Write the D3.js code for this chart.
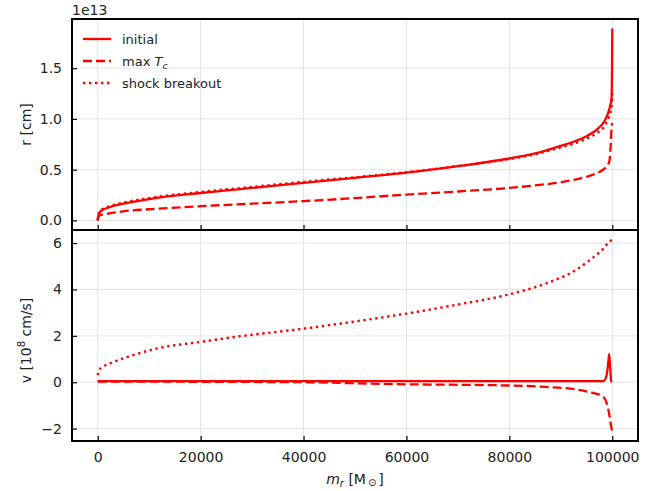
<!DOCTYPE html>
<html>
<head>
<meta charset="utf-8">
<script src="https://cdn.jsdelivr.net/npm/d3@7"></script>
<style>
  html, body { margin: 0; padding: 0; background: #fff; }
  svg { display: block; font-family: "DejaVu Sans", sans-serif; }
</style>
</head>
<body>
<svg id="chart" width="665" height="491"></svg>
<script>
// ---------------- data ----------------
const xTicks = [0, 20000, 40000, 60000, 80000, 100000];
const rTicks = [0.0, 0.5, 1.0, 1.5];
const vTicks = [-2, 0, 2, 4, 6];

// top panel: radius (units of 1e13 cm)
const mRInitial = [0,100,400,1000,2300,5000,10000,20000,30000,40000,50000,60000,70000,80000,85000,90000,93000,95000,97000,98500,99200,99600,99850,99950,100000];
const rInitial  = [0,0.04,0.08,0.105,0.13,0.165,0.21,0.27,0.32,0.37,0.42,0.47,0.535,0.61,0.66,0.735,0.785,0.83,0.895,0.98,1.06,1.13,1.2,1.5,1.89];

const mRMaxTc = [0,100,400,1000,2300,5000,10000,20000,30000,40000,50000,60000,70000,80000,85000,90000,93000,95000,97000,98500,99200,99500,99700,99850,100000];
const rMaxTc  = [0,0.03,0.05,0.06,0.07,0.09,0.11,0.14,0.165,0.19,0.22,0.255,0.285,0.32,0.345,0.375,0.405,0.43,0.465,0.51,0.55,0.6,0.75,0.9,0.96];

const mRShock = [0,100,400,1000,2300,5000,10000,20000,30000,40000,50000,60000,70000,80000,85000,90000,93000,95000,97000,98500,99200,99600,99850,99950,100000];
const rShock  = [0,0.05,0.09,0.115,0.14,0.175,0.22,0.28,0.33,0.38,0.425,0.475,0.535,0.605,0.65,0.72,0.765,0.805,0.86,0.93,1.0,1.06,1.12,1.2,1.28];

// bottom panel: velocity (units of 1e8 cm/s)
const mVInitial = [0,20000,40000,60000,80000,95000,98300,98900,99200,99400,99600,99800,100000];
const vInitial  = [0.05,0.05,0.05,0.05,0.05,0.05,0.05,0.3,0.8,1.22,0.6,0.05,0.02];

const mVMaxTc = [0,20000,40000,60000,70000,80000,87000,93000,96000,98100,98900,99500,99700,100000];
const vMaxTc  = [0.03,0.02,0,-0.09,-0.11,-0.14,-0.2,-0.31,-0.45,-0.6,-0.9,-1.5,-1.8,-2.12];

const mVShock = [0,200,1000,3000,6200,11400,20000,27600,40000,50000,60000,70000,80000,87000,93000,96000,98000,99400,100000];
const vShock  = [0.3,0.5,0.66,0.87,1.12,1.45,1.74,1.98,2.31,2.62,2.96,3.35,3.79,4.25,4.85,5.33,5.7,6.05,6.15];

const seriesNames = ["initial", "max T_c", "shock breakout"];

// ---------------- layout ----------------
const svg = d3.select("#chart");
const left = 72, right = 638;
const topP = {y0: 19, y1: 230};
const botP = {y0: 230, y1: 441};
const red = "#ff0000";
const styles = {
  initial: {dash: null, w: 2.3},
  maxTc: {dash: "9,4", w: 2.3},
  shock: {dash: "2.4,3.6", w: 2.4}
};

function paddedDomain(arrs) {
  const all = arrs.flat();
  const lo = d3.min(all), hi = d3.max(all);
  const pad = (hi - lo) * 0.05;
  return [lo - pad, hi + pad];
}

const x = d3.scaleLinear().domain(paddedDomain([[0, 100000]])).range([left, right]);
const yR = d3.scaleLinear().domain(paddedDomain([rInitial, rMaxTc, rShock])).range([topP.y1, topP.y0]);
const yV = d3.scaleLinear().domain(paddedDomain([vInitial, vMaxTc, vShock])).range([botP.y1, botP.y0]);

function zip(ms, vs) { return ms.map((m, i) => [m, vs[i]]); }

function panel(y, p, ticks, fmt, showXLabels, series, clipId) {
  const g = svg.append("g");
  svg.append("clipPath").attr("id", clipId)
    .append("rect").attr("x", left).attr("y", p.y0).attr("width", right - left).attr("height", p.y1 - p.y0);
  // grid
  g.append("g").selectAll("line").data(xTicks).join("line")
    .attr("x1", d => x(d)).attr("x2", d => x(d)).attr("y1", p.y0).attr("y2", p.y1)
    .attr("stroke", "#e3e3e3").attr("stroke-width", 1);
  g.append("g").selectAll("line").data(ticks).join("line")
    .attr("x1", left).attr("x2", right).attr("y1", d => y(d)).attr("y2", d => y(d))
    .attr("stroke", "#e3e3e3").attr("stroke-width", 1);
  // lines
  const line = d3.line().x(d => x(d[0])).y(d => y(d[1])).curve(d3.curveMonotoneX);
  const lg = g.append("g").attr("clip-path", `url(#${clipId})`);
  series.forEach(s => {
    lg.append("path").attr("d", line(s.data)).attr("fill", "none")
      .attr("stroke", red).attr("stroke-width", s.style.w)
      .attr("stroke-dasharray", s.style.dash);
  });
  // axes (ticks inward)
  const ax = d3.axisLeft(y).tickValues(ticks).tickFormat(fmt).tickSizeInner(-5).tickSizeOuter(0).tickPadding(10);
  const ag = g.append("g").attr("transform", `translate(${left},0)`).call(ax);
  ag.select(".domain").remove();
  ag.selectAll("text").attr("font-size", 14).attr("fill", "#222").attr("font-family", "DejaVu Sans");
  ag.selectAll("line").attr("stroke", "#000").attr("stroke-width", 1.2);
  const bx = d3.axisBottom(x).tickValues(xTicks).tickFormat(d3.format("d")).tickSizeInner(-5).tickSizeOuter(0).tickPadding(11);
  const bg = g.append("g").attr("transform", `translate(0,${p.y1})`).call(bx);
  bg.select(".domain").remove();
  bg.selectAll("line").attr("stroke", "#000").attr("stroke-width", 1.2);
  if (showXLabels) {
    bg.selectAll("text").attr("font-size", 14).attr("fill", "#222").attr("font-family", "DejaVu Sans");
  } else {
    bg.selectAll("text").remove();
  }
  // frame
  g.append("rect").attr("x", left).attr("y", p.y0).attr("width", right - left).attr("height", p.y1 - p.y0)
    .attr("fill", "none").attr("stroke", "#000").attr("stroke-width", 2);
  return g;
}

panel(yR, topP, rTicks, d3.format(".1f"), false, [
  {data: zip(mRInitial, rInitial), style: styles.initial},
  {data: zip(mRMaxTc, rMaxTc), style: styles.maxTc},
  {data: zip(mRShock, rShock), style: styles.shock}
], "clipTop");

panel(yV, botP, vTicks, d3.format("d"), true, [
  {data: zip(mVInitial, vInitial), style: styles.initial},
  {data: zip(mVMaxTc, vMaxTc), style: styles.maxTc},
  {data: zip(mVShock, vShock), style: styles.shock}
], "clipBot");

// offset text
svg.append("text").attr("x", 72).attr("y", 15).attr("font-size", 14).attr("fill", "#222").text("1e13");

// y labels
svg.append("text").attr("transform", `translate(31,${(topP.y0 + topP.y1) / 2}) rotate(-90)`)
  .attr("text-anchor", "middle").attr("font-size", 14).attr("fill", "#222").text("r [cm]");
const vl = svg.append("text").attr("transform", `translate(31,${(botP.y0 + botP.y1) / 2 + 5}) rotate(-90)`)
  .attr("text-anchor", "middle").attr("font-size", 14).attr("fill", "#222");
vl.append("tspan").text("v [10");
vl.append("tspan").attr("font-size", 10).attr("dy", -6).text("8");
vl.append("tspan").attr("dy", 6).text(" cm/s]");

// x label
const xl = svg.append("text").attr("x", (left + right) / 2).attr("y", 484)
  .attr("text-anchor", "middle").attr("font-size", 14).attr("fill", "#222");
xl.append("tspan").attr("font-style", "italic").text("m");
xl.append("tspan").attr("font-style", "italic").attr("font-size", 10).attr("dy", 3).text("r");
xl.append("tspan").attr("dy", -3).text(" [M");
xl.append("tspan").attr("font-size", 10).attr("dy", 2).text("\u2009\u2299\u2009");
xl.append("tspan").attr("dy", -2).text("]");

// legend
const legend = svg.append("g");
const legItems = [
  {name: seriesNames[0], style: styles.initial},
  {name: seriesNames[1], style: styles.maxTc},
  {name: seriesNames[2], style: styles.shock}
];
legItems.forEach((it, i) => {
  const yy = 39 + i * 22;
  legend.append("line").attr("x1", 83).attr("x2", 111).attr("y1", yy).attr("y2", yy)
    .attr("stroke", red).attr("stroke-width", it.style.w).attr("stroke-dasharray", it.style.dash);
  const t = legend.append("text").attr("x", 122).attr("y", yy + 5).attr("font-size", 13).attr("fill", "#222");
  if (it.name === "max T_c") {
    t.append("tspan").text("max ");
    t.append("tspan").attr("font-style", "italic").text("T");
    t.append("tspan").attr("font-style", "italic").attr("font-size", 9.5).attr("dy", 3).text("c");
  } else {
    t.text(it.name);
  }
});
</script>
</body>
</html>
